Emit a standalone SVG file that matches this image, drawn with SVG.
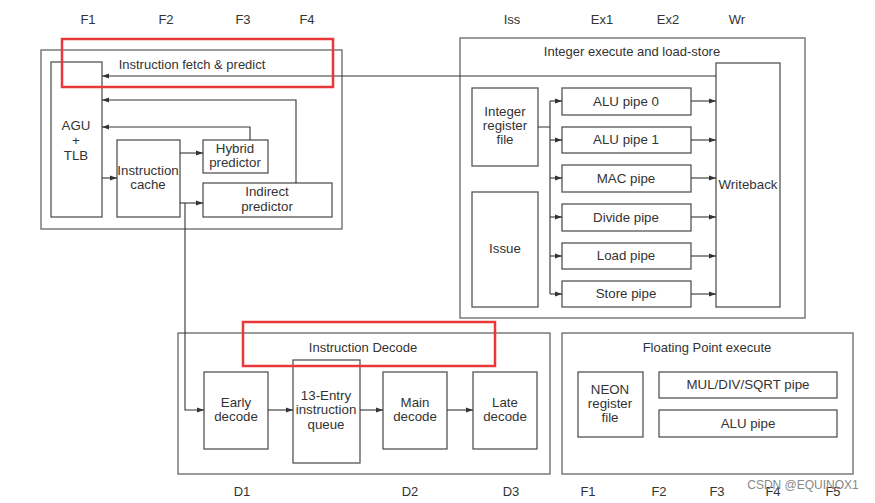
<svg xmlns="http://www.w3.org/2000/svg" width="875" height="503" viewBox="0 0 875 503">
<defs>
<marker id="ah" viewBox="0 0 10 10" refX="10" refY="5" markerWidth="7" markerHeight="7" markerUnits="userSpaceOnUse" orient="auto"><path d="M0,1.5 L10,5 L0,8.5 z" fill="#333"/></marker>
<style>
.box{fill:#fff;stroke:#555;stroke-width:1.3}
.grp{fill:none;stroke:#666;stroke-width:1.3}
.red{fill:none;stroke:#e8383a;stroke-width:2.5}
.t{font-family:"Liberation Sans",Arial,sans-serif;font-size:13.3px;fill:#333;text-anchor:middle}
.h{font-family:"Liberation Sans",Arial,sans-serif;font-size:13px;fill:#333;text-anchor:middle}
.s{font-family:"Liberation Sans",Arial,sans-serif;font-size:13px;fill:#333;text-anchor:middle}
.c{fill:none;stroke:#333;stroke-width:1.1}
.wm{font-family:"Liberation Sans",Arial,sans-serif;font-size:12px;fill:#888;text-anchor:middle}
</style>
</defs>
<rect width="875" height="503" fill="#fff"/>
<g id="stages">
<text class="s" x="88" y="24">F1</text>
<text class="s" x="166" y="24">F2</text>
<text class="s" x="243" y="24">F3</text>
<text class="s" x="307" y="24">F4</text>
<text class="s" x="512" y="24">Iss</text>
<text class="s" x="602" y="24">Ex1</text>
<text class="s" x="668" y="24">Ex2</text>
<text class="s" x="737" y="24">Wr</text>
<text class="s" x="242" y="496">D1</text>
<text class="s" x="410" y="496">D2</text>
<text class="s" x="511" y="496">D3</text>
<text class="s" x="588" y="496">F1</text>
<text class="s" x="659" y="496">F2</text>
<text class="s" x="717" y="496">F3</text>
<text class="s" x="773" y="496">F4</text>
<text class="s" x="833" y="496">F5</text>
</g>
<g id="fetch">
<rect class="grp" x="41" y="50" width="301" height="179"/>
<text class="h" x="192" y="69">Instruction fetch &amp; predict</text>
</g>
<g id="integer">
<rect class="grp" x="460" y="38" width="345" height="280"/>
<text class="h" x="632" y="56">Integer execute and load-store</text>
</g>
<g id="decode">
<rect class="grp" x="178" y="333" width="372" height="141"/>
<text class="h" x="363" y="352">Instruction Decode</text>
</g>
<g id="fp">
<rect class="grp" x="562" y="333" width="291" height="141"/>
<text class="h" x="707" y="352">Floating Point execute</text>
</g>
<g id="agu"><rect class="box" x="51" y="62" width="51" height="155"/>
<text class="t" x="76" y="130">AGU</text><text class="t" x="76" y="145">+</text><text class="t" x="76" y="160">TLB</text></g>
<g id="icache"><rect class="box" x="117" y="140" width="63" height="77"/>
<text class="t" x="148" y="175">Instruction</text><text class="t" x="148" y="189">cache</text></g>
<g id="hybrid"><rect class="box" x="203" y="140" width="65" height="33"/>
<text class="t" x="235" y="153">Hybrid</text><text class="t" x="235" y="167">predictor</text></g>
<g id="indirect"><rect class="box" x="203" y="183" width="129" height="34"/>
<text class="t" x="267" y="196">Indirect</text><text class="t" x="267" y="211">predictor</text></g>
<g id="intreg"><rect class="box" x="472" y="88" width="66" height="78"/>
<text class="t" x="505" y="116">Integer</text><text class="t" x="505" y="130">register</text><text class="t" x="505" y="144">file</text></g>
<g id="issue"><rect class="box" x="472" y="192" width="66" height="115"/>
<text class="t" x="505" y="253">Issue</text></g>
<g id="alu0"><rect class="box" x="562" y="88" width="129" height="27"/><text class="t" x="626" y="106">ALU pipe 0</text></g>
<g id="alu1"><rect class="box" x="562" y="127" width="129" height="26"/><text class="t" x="626" y="144">ALU pipe 1</text></g>
<g id="mac"><rect class="box" x="562" y="165" width="129" height="27"/><text class="t" x="626" y="183">MAC pipe</text></g>
<g id="divide"><rect class="box" x="562" y="204" width="129" height="27"/><text class="t" x="626" y="222">Divide pipe</text></g>
<g id="load"><rect class="box" x="562" y="243" width="129" height="26"/><text class="t" x="626" y="260">Load pipe</text></g>
<g id="store"><rect class="box" x="562" y="281" width="129" height="26"/><text class="t" x="626" y="298">Store pipe</text></g>
<g id="writeback"><rect class="box" x="716" y="63" width="64" height="244"/><text class="t" x="748" y="189">Writeback</text></g>
<g id="early"><rect class="box" x="204" y="372" width="64" height="77"/>
<text class="t" x="236" y="407">Early</text><text class="t" x="236" y="421">decode</text></g>
<g id="queue"><rect class="box" x="293" y="360" width="67" height="103"/>
<text class="t" x="326" y="400">13-Entry</text><text class="t" x="326" y="414">instruction</text><text class="t" x="326" y="429">queue</text></g>
<g id="main"><rect class="box" x="383" y="372" width="64" height="77"/>
<text class="t" x="415" y="407">Main</text><text class="t" x="415" y="421">decode</text></g>
<g id="late"><rect class="box" x="473" y="372" width="64" height="77"/>
<text class="t" x="505" y="407">Late</text><text class="t" x="505" y="421">decode</text></g>
<g id="neon"><rect class="box" x="578" y="372" width="65" height="65"/>
<text class="t" x="610" y="394">NEON</text><text class="t" x="610" y="408">register</text><text class="t" x="610" y="422">file</text></g>
<g id="muldiv"><rect class="box" x="659" y="372" width="178" height="26"/><text class="t" x="748" y="389">MUL/DIV/SQRT pipe</text></g>
<g id="fpalu"><rect class="box" x="659" y="410" width="178" height="27"/><text class="t" x="748" y="428">ALU pipe</text></g>
<g id="connectors">
<path class="c" d="M716,76 H102" marker-end="url(#ah)"/>
<path class="c" d="M296,183 V100 H102" marker-end="url(#ah)"/>
<path class="c" d="M250,140 V127 H102" marker-end="url(#ah)"/>
<path class="c" d="M102,178 H117" marker-end="url(#ah)"/>
<path class="c" d="M180,153 H203" marker-end="url(#ah)"/>
<path class="c" d="M180,203 H203" marker-end="url(#ah)"/>
<path class="c" d="M185,203 V410 H204" marker-end="url(#ah)"/>
<path class="c" d="M268,410 H293" marker-end="url(#ah)"/>
<path class="c" d="M360,410 H383" marker-end="url(#ah)"/>
<path class="c" d="M447,410 H473" marker-end="url(#ah)"/>
<path class="c" d="M538,127 H550 M550,101 V294"/>
<path class="c" d="M550,101 H562" marker-end="url(#ah)"/>
<path class="c" d="M550,140 H562" marker-end="url(#ah)"/>
<path class="c" d="M550,178 H562" marker-end="url(#ah)"/>
<path class="c" d="M550,217 H562" marker-end="url(#ah)"/>
<path class="c" d="M550,256 H562" marker-end="url(#ah)"/>
<path class="c" d="M550,294 H562" marker-end="url(#ah)"/>
<path class="c" d="M691,101 H716" marker-end="url(#ah)"/>
<path class="c" d="M691,140 H716" marker-end="url(#ah)"/>
<path class="c" d="M691,178 H716" marker-end="url(#ah)"/>
<path class="c" d="M691,217 H716" marker-end="url(#ah)"/>
<path class="c" d="M691,256 H716" marker-end="url(#ah)"/>
<path class="c" d="M691,294 H716" marker-end="url(#ah)"/>
</g>
<g id="highlights">
<rect class="red" x="62" y="39" width="271" height="48"/>
<rect class="red" x="243" y="322" width="252" height="44"/>
</g>
<text class="wm" x="803" y="489">CSDN @EQUINOX1</text>
</svg>
